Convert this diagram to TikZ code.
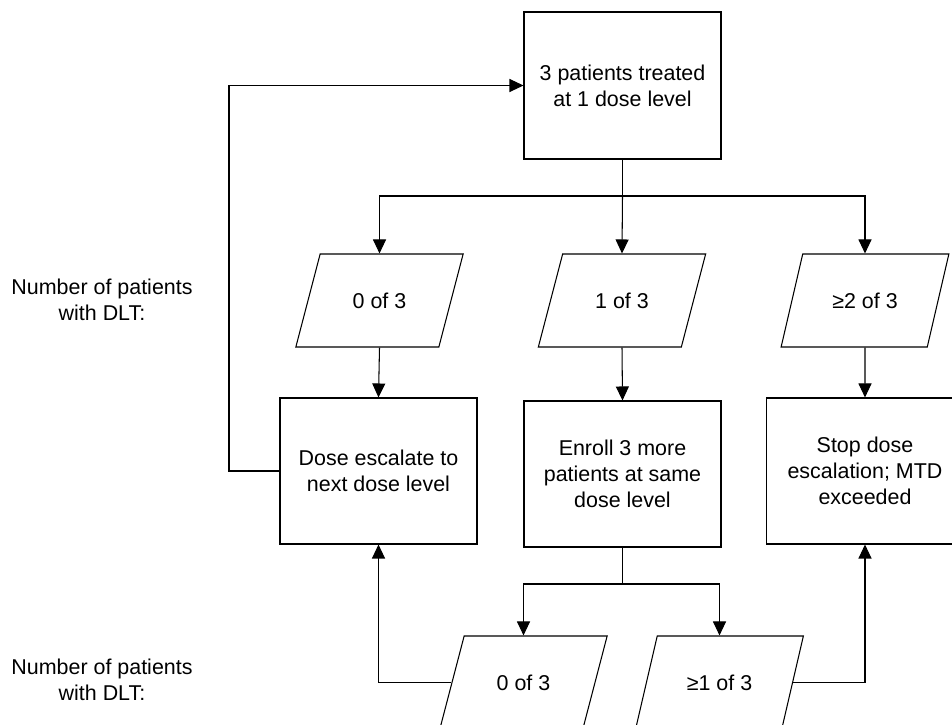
\documentclass[tikz,border=0pt]{standalone}
\usepackage{fontspec}
\setmainfont{Liberation Sans}
\usepackage{tikz}
\usetikzlibrary{shapes.geometric, arrows.meta, positioning}

\begin{document}
\begin{tikzpicture}[
    box/.style={draw, rectangle, minimum height=2.92cm, minimum width=3.94cm, align=center, font=\fontsize{12.2}{14.8}\selectfont},
    dlt/.style={draw, trapezium, trapezium left angle=64, trapezium right angle=116, trapezium stretches=true, minimum height=1.86cm, minimum width=3.36cm, font=\fontsize{12.2}{14.8}\selectfont},
    note/.style={align=center, font=\fontsize{12.2}{14.8}\selectfont},
    arrow/.style={-{Triangle[length=2.8mm, width=2.6mm]}, line width=0.6pt},
    line width=0.6pt
]
\useasboundingbox (0,0) rectangle (19.04,-14.5);
\clip (0,0) rectangle (19.04,-14.5);

% start
\node[box, minimum height=2.94cm] (treat) at (12.45,-1.71) {3 patients treated\\at 1 dose level};

% first cohort outcomes
\node[dlt] (first0) at (7.59,-6.01) {0 of 3};
\node[dlt] (first1) at (12.44,-6.01) {1 of 3};
\node[dlt] (first2) at (17.30,-6.01) {≥2 of 3};

% decisions
\node[box] (escalate) at (7.57,-9.42) {Dose escalate to\\next dose level};
\node[box] (enroll) at (12.45,-9.48) {Enroll 3 more\\patients at same\\dose level};
\node[box] (stop) at (17.30,-9.42) {Stop dose\\escalation; MTD\\exceeded};

% second cohort outcomes
\node[dlt] (second0) at (10.47,-13.65) {0 of 3};
\node[dlt] (second1) at (14.39,-13.65) {≥1 of 3};

\node[note] (label1) at (2.04,-6.0) {Number of patients\\with DLT:};
\node[note] (label2) at (2.04,-13.6) {Number of patients\\with DLT:};

\coordinate (fork1) at (12.45,-3.92);
\coordinate (fork2) at (12.45,-11.68);
\coordinate (back) at (4.58,-9.42);

\draw (treat.south) -- (fork1);
\draw[arrow] (fork1) -| (first0.north);
\draw[arrow] (fork1) -- (first1.north);
\draw[arrow] (fork1) -| (first2.north);

\draw[arrow] (first0.south) -- (escalate.north);
\draw[arrow] (first1.south) -- (enroll.north);
\draw[arrow] (first2.south) -- (stop.north);

\draw[arrow] (escalate.west) -- (back) |- (treat.west);

\draw (enroll.south) -- (fork2);
\draw[arrow] (fork2) -| (second0.north);
\draw[arrow] (fork2) -| (second1.north);

\draw[arrow] (second0.west) -| (escalate.south);
\draw[arrow] (second1.east) -| (stop.south);

\end{tikzpicture}
\end{document}
